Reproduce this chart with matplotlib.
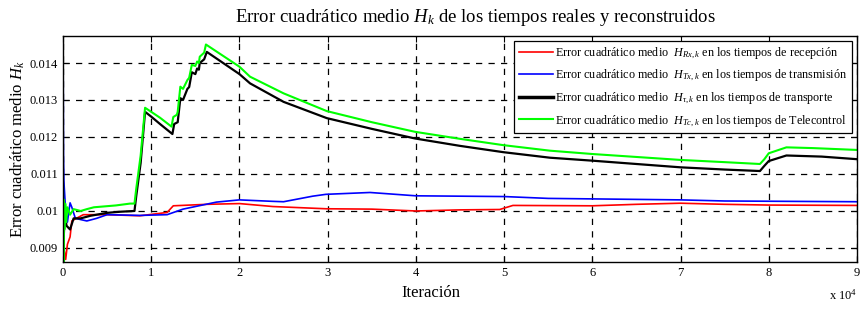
"""Error cuadratico medio H_k de los tiempos reales y reconstruidos."""

import matplotlib

matplotlib.use("Agg")
import matplotlib.pyplot as plt

# iterations in units of 1e4
rx_x = [0, 0.01, 0.03, 0.05, 0.08, 0.1, 0.15, 0.23, 0.5, 0.87, 1.18, 1.25, 1.63, 2.0,
        2.38, 2.98, 3.5, 4.0, 4.5, 4.95, 5.1, 6.0, 6.5, 7.0, 7.5, 8.0, 9.0]
rx_y = [0.0100, 0.0090, 0.00869, 0.0091, 0.0093, 0.00973, 0.0098, 0.0099, 0.0099, 0.00987,
        0.00996, 0.01014, 0.01018, 0.0102, 0.01012, 0.01006, 0.01005, 0.0100, 0.01003,
        0.01004, 0.01015, 0.01014, 0.01018, 0.01021, 0.01018, 0.01016, 0.01015]

tx_x = [0, 0.005, 0.01, 0.03, 0.05, 0.08, 0.1, 0.14, 0.27, 0.38, 0.5, 0.87, 1.18, 1.36,
        1.74, 2.0, 2.38, 2.5, 2.83, 2.98, 3.48, 4.0, 5.0, 5.5, 7.0, 7.5, 9.0]
tx_y = [0.0150, 0.0115, 0.0108, 0.0100, 0.0097, 0.01022, 0.0101, 0.0098, 0.00973, 0.0098,
        0.0099, 0.00988, 0.0099, 0.01005, 0.01024, 0.0103, 0.01026, 0.01025, 0.0104,
        0.01045, 0.0105, 0.01041, 0.01039, 0.01034, 0.0103, 0.01027, 0.01025]

tau_x = [0, 0.01, 0.02, 0.04, 0.08, 0.12, 0.2, 0.31, 0.5, 0.65, 0.81, 0.83, 0.88, 0.93,
         1.0, 1.1, 1.24, 1.26, 1.30, 1.33, 1.36, 1.41, 1.43, 1.46, 1.50, 1.52, 1.54,
         1.55, 1.60, 1.63, 2.0, 2.12, 2.5, 2.99, 3.5, 3.99, 4.5, 4.99, 5.52, 6.0, 6.5,
         7.0, 7.5, 7.9, 7.95, 8.0, 8.2, 8.6, 9.0]
tau_y = [0.0097, 0.0094, 0.0099, 0.0096, 0.0095, 0.0098, 0.0098, 0.00987, 0.00995,
         0.00998, 0.0100, 0.0104, 0.0113, 0.01268, 0.01255, 0.01235, 0.01208, 0.01235,
         0.01240, 0.01305, 0.01300, 0.01330, 0.01335, 0.01375, 0.01370, 0.01385,
         0.01382, 0.01400, 0.01410, 0.01430, 0.01370, 0.01345, 0.01295, 0.01251,
         0.01222, 0.01196, 0.01176, 0.01159, 0.01144, 0.01136, 0.01127, 0.01118,
         0.01112, 0.01108, 0.01122, 0.01135, 0.01150, 0.01147, 0.0114]

tc_x = [0, 0.005, 0.01, 0.015, 0.025, 0.035, 0.05, 0.08, 0.12, 0.2, 0.27, 0.35, 0.5,
        0.6, 0.76, 0.81, 0.83, 0.88, 0.93, 1.0, 1.1, 1.23, 1.25, 1.29, 1.30, 1.33, 1.36,
        1.41, 1.43, 1.46, 1.50, 1.52, 1.54, 1.55, 1.60, 1.62, 2.0, 2.12, 2.5, 2.99, 3.5,
        3.99, 4.5, 4.99, 5.52, 6.0, 6.5, 7.0, 7.5, 7.9, 7.95, 8.0, 8.2, 8.5, 9.0]
tc_y = [0.0107, 0.0086, 0.0103, 0.0095, 0.0102, 0.0097, 0.0101, 0.0099, 0.01005, 0.0100,
        0.01005, 0.0101, 0.01013, 0.01015, 0.0102, 0.0102, 0.0106, 0.0115, 0.01279,
        0.01268, 0.01252, 0.01228, 0.01254, 0.01260, 0.01268, 0.01336, 0.01330,
        0.01354, 0.01360, 0.01395, 0.01392, 0.01404, 0.01400, 0.01417, 0.01428,
        0.01450, 0.01390, 0.01363, 0.01318, 0.01270, 0.01240, 0.01214, 0.01195,
        0.01178, 0.01163, 0.01154, 0.01146, 0.01138, 0.01132, 0.01127, 0.01140,
        0.01156, 0.01172, 0.01170, 0.01165]

labels = [
    r"Error cuadrático medio  $H_{Rx,k}$ en los tiempos de recepción",
    r"Error cuadrático medio  $H_{Tx,k}$ en los tiempos de transmisión",
    r"Error cuadrático medio  $H_{\tau,k}$ en los tiempos de transporte",
    r"Error cuadrático medio  $H_{Tc,k}$ en los tiempos de Telecontrol",
]
xticks = [0, 1, 2, 3, 4, 5, 6, 7, 8, 9]
yticks = [0.009, 0.01, 0.011, 0.012, 0.013, 0.014]

plt.rcParams["font.family"] = ["Liberation Serif", "DejaVu Serif"]
plt.rcParams["mathtext.fontset"] = "custom"
plt.rcParams["mathtext.rm"] = "Liberation Serif"
plt.rcParams["mathtext.it"] = "Liberation Serif:italic"

fig = plt.figure(figsize=(8.68, 3.09), dpi=100)
ax = fig.add_axes([0.0726, 0.152, 0.9147, 0.7315])

ax.plot([v * 1e4 for v in rx_x], rx_y, color="#ff0000", lw=1.2, label=labels[0])
ax.plot([v * 1e4 for v in tx_x], tx_y, color="#0000ff", lw=1.2, label=labels[1])
ax.plot([v * 1e4 for v in tau_x], tau_y, color="black", lw=1.6, label=labels[2])
ax.plot([v * 1e4 for v in tc_x], tc_y, color="#00ff00", lw=1.5, label=labels[3])

ax.set_xlim(0, 9e4)
ax.set_ylim(0.00862, 0.01473)
ax.set_xticks([t * 1e4 for t in xticks])
ax.set_xticklabels([str(t) for t in xticks])
ax.set_yticks(yticks)
ax.set_yticklabels(["0.009", "0.01", "0.011", "0.012", "0.013", "0.014"])
ax.tick_params(direction="in", top=True, right=True, labelsize=9, length=4)
ax.grid(True, color="black", linestyle=(0, (5, 5)), linewidth=0.9)
for s in ax.spines.values():
    s.set_linewidth(1)

ax.set_title(r"Error cuadrático medio $H_k$ de los tiempos reales y reconstruidos",
             fontsize=13.5, pad=10, x=0.52)
ax.set_xlabel("Iteración", fontsize=12, labelpad=2)
ax.xaxis.set_label_coords(0.463, -0.1)
ax.xaxis.label.set_va("top")
ax.set_ylabel(r"Error cuadrático medio $H_k$", fontsize=12, labelpad=2)
ax.text(1.0, -0.115, r"x 10$^4$", transform=ax.transAxes, ha="right", va="top", fontsize=9)

leg = ax.legend(loc="upper right", fontsize=8.7, fancybox=False, framealpha=1,
                edgecolor="black", handlelength=2.8, handletextpad=0.2,
                borderaxespad=0.4, labelspacing=0.62, borderpad=0.4)
leg.get_frame().set_linewidth(0.9)
leg.get_lines()[2].set_linewidth(2.5)

fig.savefig("out.png", dpi=100)
